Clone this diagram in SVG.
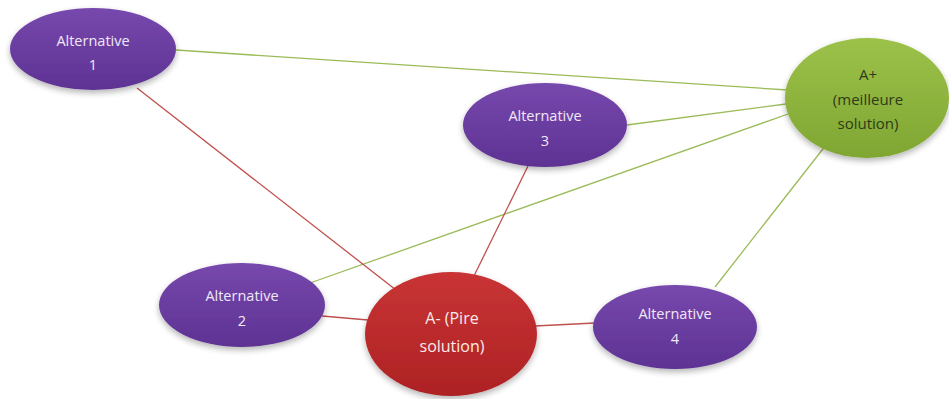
<svg xmlns="http://www.w3.org/2000/svg" width="949" height="399" viewBox="0 0 949 399">
<defs>
  <linearGradient id="gP" x1="0" y1="0" x2="0" y2="1">
    <stop offset="0" stop-color="#7748ad"/>
    <stop offset="1" stop-color="#5d3293"/>
  </linearGradient>
  <linearGradient id="gG" x1="0" y1="0" x2="0" y2="1">
    <stop offset="0" stop-color="#9cc24a"/>
    <stop offset="1" stop-color="#7fa632"/>
  </linearGradient>
  <linearGradient id="gR" x1="0" y1="0" x2="0" y2="1">
    <stop offset="0" stop-color="#c93435"/>
    <stop offset="1" stop-color="#ad2224"/>
  </linearGradient>
  <filter id="sh" x="-20%" y="-20%" width="140%" height="150%">
    <feGaussianBlur in="SourceAlpha" stdDeviation="3"/>
    <feOffset dx="0" dy="3" result="b"/>
    <feComponentTransfer><feFuncA type="linear" slope="0.3"/></feComponentTransfer>
    <feMerge><feMergeNode/><feMergeNode in="SourceGraphic"/></feMerge>
  </filter>
</defs>
<style>
  .p { fill: url(#gP); filter: url(#sh); }
  .g { fill: url(#gG); filter: url(#sh); }
  .r { fill: url(#gR); filter: url(#sh); }
  .t { font-family: "Open Sans", "Liberation Sans", sans-serif; font-size: 14.5px; fill: #f0e8f8; text-anchor: middle; }
  .tr { font-family: "Open Sans", "Liberation Sans", sans-serif; font-size: 16px; fill: #fbe9e9; text-anchor: middle; }
  .tg { font-family: "Open Sans", "Liberation Sans", sans-serif; font-size: 15px; fill: #2e3a18; text-anchor: middle; }
  .lg { stroke: #9bbb59; stroke-width: 1.3; fill: none; }
  .lr { stroke: #c0504d; stroke-width: 1.3; fill: none; }
</style>
<rect width="949" height="399" fill="#ffffff"/>
<g id="connectors">
  <line class="lg" x1="176" y1="50" x2="788" y2="90"/>
  <line class="lg" x1="627" y1="125" x2="786" y2="104"/>
  <line class="lg" x1="310" y1="283" x2="788" y2="114"/>
  <line class="lg" x1="715" y1="287" x2="826" y2="145"/>
  <line class="lr" x1="137" y1="88" x2="396" y2="290"/>
  <line class="lr" x1="528" y1="166" x2="472" y2="280"/>
  <line class="lr" x1="322" y1="316" x2="368" y2="320"/>
  <line class="lr" x1="595" y1="323" x2="535" y2="326"/>
</g>
<g id="alt1">
  <ellipse class="p" cx="93" cy="49" rx="83" ry="41"/>
  <text class="t" x="93" y="46">Alternative</text>
  <text class="t" x="93" y="70">1</text>
</g>
<g id="aplus">
  <ellipse class="g" cx="867" cy="98" rx="82" ry="60"/>
  <text class="tg" x="868" y="80">A+</text>
  <text class="tg" x="868" y="105">(meilleure</text>
  <text class="tg" x="868" y="129">solution)</text>
</g>
<g id="alt3">
  <ellipse class="p" cx="545" cy="125" rx="82" ry="42"/>
  <text class="t" x="545" y="121">Alternative</text>
  <text class="t" x="545" y="146">3</text>
</g>
<g id="alt2">
  <ellipse class="p" cx="242" cy="305" rx="83" ry="42"/>
  <text class="t" x="242" y="301">Alternative</text>
  <text class="t" x="242" y="326">2</text>
</g>
<g id="aminus">
  <ellipse class="r" cx="451" cy="334" rx="86" ry="62"/>
  <text class="tr" x="452" y="324">A- (Pire</text>
  <text class="tr" x="452" y="352">solution)</text>
</g>
<g id="alt4">
  <ellipse class="p" cx="675" cy="327" rx="82" ry="42"/>
  <text class="t" x="675" y="319">Alternative</text>
  <text class="t" x="675" y="344">4</text>
</g>
</svg>
